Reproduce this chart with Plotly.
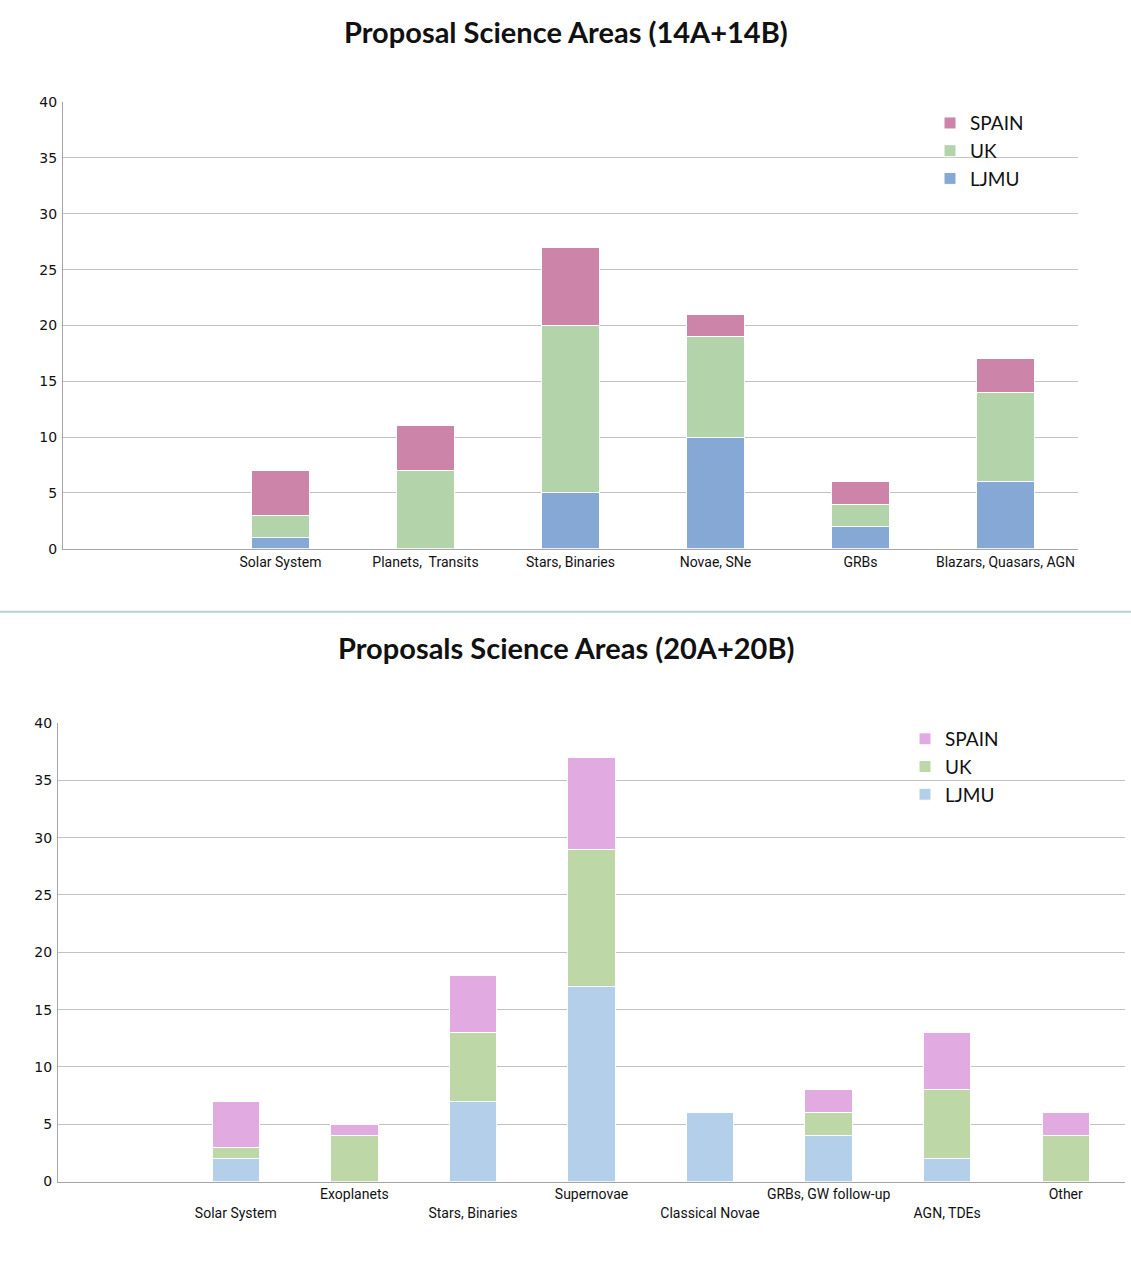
import plotly.graph_objects as go

# ---- Top chart data (14A+14B)
cats_top = ["Solar System", "Planets,  Transits", "Stars, Binaries", "Novae, SNe", "GRBs", "Blazars, Quasars, AGN"]
ljmu_top = [1, 0, 5, 10, 2, 6]
uk_top = [2, 7, 15, 9, 2, 8]
spain_top = [4, 4, 7, 2, 2, 3]

# ---- Bottom chart data (20A+20B)
cats_bot = ["Solar System", "Exoplanets", "Stars, Binaries", "Supernovae", "Classical Novae",
            "GRBs, GW follow-up", "AGN, TDEs", "Other"]
labels_bot = ["<br>Solar System", "Exoplanets", "<br>Stars, Binaries", "Supernovae", "<br>Classical Novae",
              "GRBs, GW follow-up", "<br>AGN, TDEs", "Other"]
ljmu_bot = [2, 0, 7, 17, 6, 4, 2, 0]
uk_bot = [1, 4, 6, 12, 0, 2, 6, 4]
spain_bot = [4, 1, 5, 8, 0, 2, 5, 2]

title_top = "Proposal Science Areas (14A+14B)"
title_bot = "Proposals Science Areas (20A+20B)"

top_colors = {"LJMU": "#85a9d4", "UK": "#b3d4ab", "SPAIN": "#cc85a8"}
bot_colors = {"LJMU": "#b4cfe9", "UK": "#bed7a6", "SPAIN": "#e1abe1"}

fig = go.Figure()
for name, vals in [("LJMU", ljmu_top), ("UK", uk_top), ("SPAIN", spain_top)]:
    fig.add_trace(go.Bar(x=cats_top, y=vals, name=name, xaxis="x", yaxis="y",
                         marker=dict(color=top_colors[name], line=dict(color="white", width=1)),
                         legend="legend"))
for name, vals in [("LJMU", ljmu_bot), ("UK", uk_bot), ("SPAIN", spain_bot)]:
    fig.add_trace(go.Bar(x=cats_bot, y=vals, name=name, xaxis="x2", yaxis="y2",
                         marker=dict(color=bot_colors[name], line=dict(color="white", width=1)),
                         legend="legend2"))

W, H = 1131, 1263
def px(x): return x / W
def py(y):
    # empirical vertical correction for the capture
    y = (y - 8) / 0.986
    return 1 - y / H

tickfont = dict(family="Roboto, sans-serif", size=14, color="#111")
yfont = dict(family="DejaVu Sans, sans-serif", size=14, color="#111")
legfont = dict(family="Lato, sans-serif", size=19, color="#111")
titlefont = dict(family="Lato, sans-serif", size=29, color="#111")

fig.update_layout(
    width=W, height=H, margin=dict(l=0, r=0, t=0, b=0, pad=0),
    paper_bgcolor="white", plot_bgcolor="white",
    barmode="stack", bargap=0.6, showlegend=True,
    xaxis=dict(domain=[px(63), px(1078)], anchor="y", type="category", categoryarray=cats_top,
               range=[-1.5, 5.5], showgrid=False, showline=True, linecolor="#a6a6a6", linewidth=1,
               ticks="", tickfont=tickfont, tickangle=0),
    yaxis=dict(domain=[py(548), py(102)], anchor="x", range=[0, 40], dtick=5, showgrid=True,
               gridcolor="#c2c2c2", gridwidth=1, showline=True, linecolor="#a6a6a6", linewidth=1,
               ticks="", tickfont=yfont, zeroline=False, ticklabelstandoff=2),
    xaxis2=dict(domain=[px(58), px(1125)], anchor="y2", type="category", categoryarray=cats_bot,
                range=[-1.5, 7.5], showgrid=False, showline=True, linecolor="#a6a6a6", linewidth=1,
                ticks="", tickfont=tickfont, tickangle=0, tickmode="array", tickvals=cats_bot,
                ticktext=labels_bot),
    yaxis2=dict(domain=[py(1180), py(722)], anchor="x2", range=[0, 40], dtick=5, showgrid=True,
                gridcolor="#c2c2c2", gridwidth=1, showline=True, linecolor="#a6a6a6", linewidth=1,
                ticks="", tickfont=yfont, zeroline=False, ticklabelstandoff=2),
    legend=dict(x=px(930), y=py(104), xanchor="left", yanchor="top", traceorder="reversed",
                font=legfont, bgcolor="rgba(0,0,0,0)", itemwidth=30, tracegroupgap=0),
    legend2=dict(x=px(905), y=py(719), xanchor="left", yanchor="top", traceorder="reversed",
                 font=legfont, bgcolor="rgba(0,0,0,0)", itemwidth=30, tracegroupgap=0),
    annotations=[
        dict(text="<b>" + title_top + "</b>", x=0.5, y=py(31), xref="paper", yref="paper",
             showarrow=False, font=titlefont, xanchor="center", yanchor="middle"),
        dict(text="<b>" + title_bot + "</b>", x=0.5, y=py(647), xref="paper", yref="paper",
             showarrow=False, font=titlefont, xanchor="center", yanchor="middle"),
    ],
    shapes=[dict(type="line", xref="paper", yref="paper", x0=0, x1=1, y0=py(611), y1=py(611),
                 line=dict(color="#b8cde0", width=2))],
)

fig.write_html("out.html", config={"displayModeBar": False},
               post_script="document.body.style.margin='0';document.body.style.padding='0';"
                           "document.documentElement.style.overflow='hidden';")
